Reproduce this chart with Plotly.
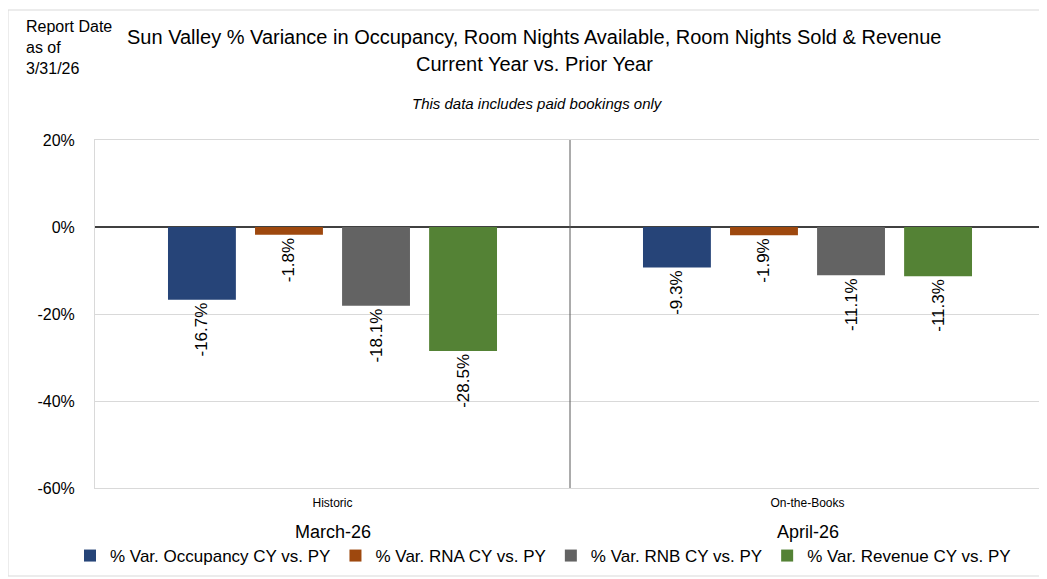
import plotly.graph_objects as go

categories = ["Historic", "On-the-Books"]
months = ["March-26", "April-26"]
series_names = ["% Var. Occupancy CY vs. PY", "% Var. RNA CY vs. PY",
                "% Var. RNB CY vs. PY", "% Var. Revenue CY vs. PY"]
occupancy = [-16.7, -9.3]
rna = [-1.8, -1.9]
rnb = [-18.1, -11.1]
revenue = [-28.5, -11.3]
colors = ["#264478", "#9E480E", "#636363", "#548235"]
y_ticks = [-60, -40, -20, 0, 20]
y_tick_text = ["-60%", "-40%", "-20%", "0%", "20%"]

OFF = 8  # page offset of the figure
W, H = 1047 - OFF, 579 - OFF
L, R, T, B = 95 - OFF, 2, 140 - OFF, 579 - 488
pw, ph = W - L - R, H - T - B


def px(xpix):
    return (xpix - OFF - L) / pw


def py(ypix):
    return (H - B - (ypix - OFF)) / ph


fig = go.Figure()
for name, vals, col in zip(series_names, [occupancy, rna, rnb, revenue], colors):
    fig.add_trace(go.Bar(
        x=categories, y=vals, name=name,
        marker=dict(color=col, line=dict(width=0)),
        text=[f"{v:.1f}%" for v in vals],
        textposition="outside", textangle=-90, constraintext="none",
        textfont=dict(family="Liberation Sans, Arial", size=17, color="#000000"),
        cliponaxis=False,
    ))

fig.update_layout(
    width=W, height=H,
    margin=dict(l=L, r=R, t=T, b=B, autoexpand=False),
    paper_bgcolor="white", plot_bgcolor="white",
    barmode="group", bargap=0.267, bargroupgap=0.22,
    font=dict(family="Liberation Sans, Arial", color="#000000"),
    showlegend=True,
    legend=dict(orientation="h", xref="container", yref="container",
                x=(543 - OFF) / W, xanchor="center", y=1 - (556 - OFF) / H, yanchor="middle",
                font=dict(family="Liberation Sans", size=17),
                itemwidth=30, itemsizing="constant", tracegroupgap=0),
    xaxis=dict(showgrid=False, showline=True, linecolor="#d9d9d9", mirror=True,
               tickfont=dict(family="Liberation Sans", size=12),
               ticks="", ticklabelstandoff=4, fixedrange=True),
    yaxis=dict(range=[-60, 20], tickmode="array", tickvals=y_ticks, ticktext=y_tick_text,
               showgrid=True, gridcolor="#d9d9d9", gridwidth=1,
               zeroline=True, zerolinecolor="#404040", zerolinewidth=1.5,
               showline=True, linecolor="#d9d9d9", mirror=True,
               tickfont=dict(family="Liberation Sans, Arial", size=16),
               ticklabelstandoff=16, ticks=""),
)

# group separator
fig.add_shape(type="line", xref="x", yref="paper", x0=0.5, x1=0.5, y0=0, y1=1,
              line=dict(color="#595959", width=1))
# outer chart border
fig.add_shape(type="rect", xref="paper", yref="paper",
              x0=px(8), x1=px(1045), y0=py(576), y1=py(10),
              line=dict(color="#d9d9d9", width=1), fillcolor="rgba(0,0,0,0)", layer="below")

for cat, m in zip(categories, months):
    fig.add_annotation(x=cat, xref="x", yref="paper", y=py(532),
                       text=m, showarrow=False, yanchor="middle",
                       font=dict(family="Liberation Sans", size=18))

fig.add_annotation(xref="paper", yref="paper", x=px(534), y=py(37),
                   text="Sun Valley % Variance in Occupancy, Room Nights Available, Room Nights Sold & Revenue",
                   showarrow=False, xanchor="center", yanchor="middle",
                   font=dict(family="Liberation Sans", size=20))
fig.add_annotation(xref="paper", yref="paper", x=px(534), y=py(64),
                   text="Current Year vs. Prior Year",
                   showarrow=False, xanchor="center", yanchor="middle",
                   font=dict(family="Liberation Sans", size=20))
fig.add_annotation(xref="paper", yref="paper", x=px(537), y=py(103),
                   text="<i>This data includes paid bookings only</i>",
                   showarrow=False, xanchor="center", yanchor="middle",
                   font=dict(family="Liberation Sans", size=15))
fig.add_annotation(xref="paper", yref="paper", x=px(24), y=py(16),
                   text="Report Date<br>as of<br>3/31/26", align="left",
                   showarrow=False, xanchor="left", yanchor="top",
                   font=dict(family="Liberation Sans", size=16))

fig.write_html("out.html")
